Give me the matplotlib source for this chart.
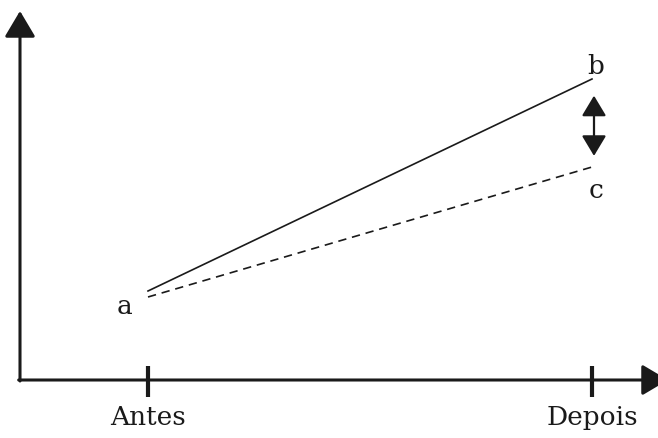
import matplotlib
matplotlib.use("Agg")
import matplotlib.pyplot as plt

# dados do esquema (unidades arbitrárias)
periodos = ["Antes", "Depois"]
x_pos = [1, 2]
linha_real = [0.89, 3.01]      # a -> b (sólida)
linha_esperada = [0.83, 2.13]  # a -> c (tracejada)
rotulos = ["a", "b", "c"]

fig = plt.figure(figsize=(6.58, 4.39), dpi=100)
ax = fig.add_axes([0, 0, 1, 1])
ax.set_xlim(1 - 148 / 444, 2 + 66 / 444)
ax.set_ylim(-0.58, 3.81)
ax.axis("off")

fonte = dict(family="DejaVu Serif", fontsize=19, color="#1a1a1a")
preto = "#1a1a1a"

# eixos com setas
x0 = 1 - 128 / 444
seta = dict(arrowstyle="-|>,head_length=1.6,head_width=0.95",
            mutation_scale=10, lw=2.2, color=preto, shrinkA=0, shrinkB=0)
ax.annotate("", xy=(x0, 3.69), xytext=(x0, -0.01), arrowprops=seta,
            annotation_clip=False)
ax.annotate("", xy=(2 + 76 / 444, 0), xytext=(x0 - 0.003, 0), arrowprops=seta,
            annotation_clip=False)

# marcas dos períodos
ax.vlines(x_pos, -0.17, 0.14, lw=3.0, color=preto)
for x, nome in zip(x_pos, periodos):
    ax.text(x, -0.37, nome, ha="center", va="center", **fonte)

# linhas
ax.plot(x_pos, linha_real, color=preto, lw=1.2)
ax.plot(x_pos, linha_esperada, color=preto, lw=1.2, dashes=(5, 3.5))

# rótulos a, b, c
ax.annotate(rotulos[0], (x_pos[0], linha_esperada[0]), xytext=(-17, -6),
            textcoords="offset points", ha="center", va="center", **fonte)
ax.annotate(rotulos[1], (x_pos[1], linha_real[1]), xytext=(3, 10),
            textcoords="offset points", ha="center", va="center", **fonte)
ax.annotate(rotulos[2], (x_pos[1], linha_esperada[1]), xytext=(3, -16),
            textcoords="offset points", ha="center", va="center", **fonte)

# seta dupla entre b e c
ax.annotate("", xy=(x_pos[1] + 2 / 444, linha_esperada[1]),
            xytext=(x_pos[1] + 2 / 444, linha_real[1]),
            arrowprops=dict(arrowstyle="<|-|>,head_length=1.25,head_width=0.75",
                            mutation_scale=10, lw=1.6, color=preto,
                            shrinkA=12, shrinkB=8))

fig.savefig("out.png", dpi=100)
